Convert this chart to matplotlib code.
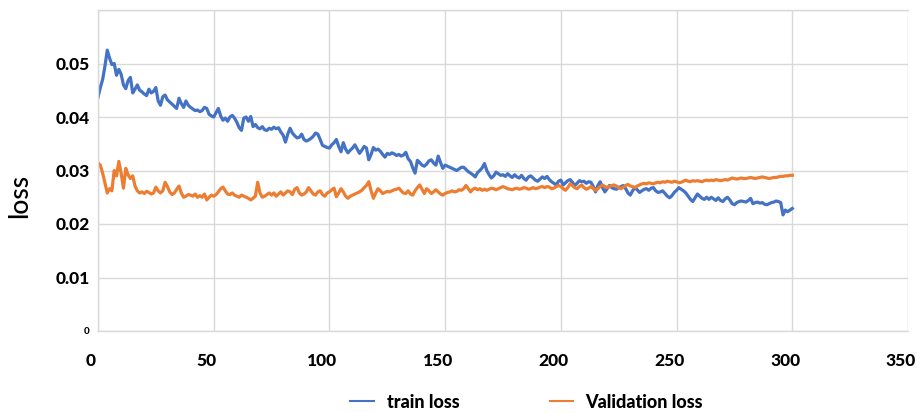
import matplotlib
matplotlib.use("Agg")
import matplotlib.pyplot as plt
import matplotlib.transforms as mtransforms
import numpy as np

epochs = list(range(0, 301))

train_loss = [
    .0437, .0455, .0470, .0495, .0525, .0510, .0498, .0500, .0478, .0489,
    .0480, .0460, .0453, .0468, .0474, .0445, .0452, .0460, .0450, .0447,
    .0443, .0440, .0452, .0445, .0448, .0455, .0430, .0422, .0438, .0441,
    .0432, .0428, .0424, .0420, .0416, .0435, .0425, .0418, .0430, .0422,
    .0418, .0415, .0412, .0413, .0410, .0412, .0418, .0416, .0405, .0402,
    .0400, .0408, .0416, .0402, .0394, .0398, .0392, .0400, .0403, .0398,
    .0390, .0380, .0375, .0398, .0400, .0392, .0401, .0382, .0386, .0380,
    .0378, .0382, .0376, .0375, .0379, .0377, .0381, .0378, .0380, .0372,
    .0366, .0353, .0368, .0379, .0370, .0365, .0361, .0362, .0368, .0358,
    .0355, .0357, .0360, .0364, .0370, .0368, .0358, .0347, .0345, .0343,
    .0342, .0348, .0352, .0358, .0345, .0335, .0352, .0340, .0333, .0338,
    .0342, .0348, .0340, .0332, .0338, .0345, .0342, .0320, .0330, .0343,
    .0338, .0340, .0336, .0330, .0325, .0332, .0330, .0333, .0331, .0328,
    .0330, .0327, .0329, .0334, .0322, .0317, .0305, .0295, .0319, .0315,
    .0310, .0308, .0312, .0318, .0320, .0314, .0310, .0327, .0315, .0304,
    .0310, .0308, .0306, .0304, .0302, .0300, .0303, .0306, .0306, .0302,
    .0298, .0295, .0292, .0288, .0296, .0300, .0305, .0313, .0300, .0292,
    .0286, .0290, .0297, .0294, .0291, .0292, .0289, .0294, .0290, .0287,
    .0292, .0288, .0286, .0291, .0285, .0282, .0288, .0290, .0286, .0282,
    .0280, .0284, .0288, .0285, .0289, .0283, .0279, .0276, .0273, .0280,
    .0282, .0273, .0277, .0281, .0283, .0278, .0272, .0276, .0281, .0279,
    .0280, .0276, .0279, .0278, .0270, .0260, .0272, .0279, .0268, .0260,
    .0266, .0272, .0268, .0266, .0265, .0268, .0270, .0272, .0266, .0258,
    .0254, .0262, .0268, .0264, .0259, .0262, .0265, .0266, .0263, .0267,
    .0268, .0262, .0259, .0260, .0262, .0257, .0252, .0249, .0253, .0259,
    .0263, .0268, .0265, .0262, .0258, .0252, .0246, .0242, .0249, .0256,
    .0252, .0248, .0246, .0250, .0246, .0250, .0247, .0244, .0249, .0244,
    .0242, .0247, .0250, .0245, .0238, .0236, .0240, .0242, .0243, .0242,
    .0241, .0244, .0248, .0238, .0240, .0241, .0239, .0240, .0237, .0236,
    .0238, .0240, .0241, .0243, .0242, .0240, .0217, .0226, .0223, .0226,
    .0229,
]

val_loss = [
    .0314, .0310, .0295, .0277, .0258, .0266, .0262, .0300, .0290, .0317,
    .0295, .0267, .0304, .0292, .0285, .0290, .0271, .0262, .0258, .0260,
    .0257, .0261, .0259, .0256, .0258, .0269, .0262, .0258, .0262, .0278,
    .0270, .0260, .0255, .0258, .0265, .0271, .0258, .0250, .0252, .0255,
    .0254, .0252, .0256, .0250, .0253, .0250, .0256, .0245, .0250, .0254,
    .0252, .0255, .0260, .0266, .0269, .0262, .0256, .0255, .0258, .0254,
    .0252, .0250, .0254, .0252, .0250, .0248, .0245, .0248, .0252, .0278,
    .0258, .0250, .0252, .0255, .0258, .0254, .0258, .0252, .0256, .0260,
    .0254, .0258, .0262, .0260, .0255, .0265, .0268, .0258, .0254, .0256,
    .0260, .0268, .0262, .0256, .0254, .0260, .0262, .0255, .0252, .0258,
    .0260, .0264, .0267, .0251, .0258, .0266, .0260, .0252, .0248, .0252,
    .0254, .0256, .0258, .0260, .0263, .0268, .0272, .0279, .0262, .0248,
    .0258, .0266, .0262, .0257, .0259, .0261, .0260, .0262, .0264, .0265,
    .0267, .0262, .0258, .0257, .0262, .0256, .0254, .0262, .0268, .0273,
    .0265, .0257, .0266, .0262, .0257, .0260, .0264, .0260, .0256, .0254,
    .0257, .0259, .0260, .0262, .0260, .0261, .0264, .0263, .0266, .0272,
    .0266, .0260, .0265, .0267, .0264, .0266, .0263, .0265, .0263, .0265,
    .0267, .0266, .0264, .0266, .0268, .0270, .0268, .0266, .0265, .0264,
    .0266, .0267, .0265, .0266, .0268, .0267, .0265, .0266, .0268, .0266,
    .0267, .0269, .0270, .0268, .0270, .0269, .0266, .0267, .0270, .0272,
    .0270, .0266, .0263, .0268, .0275, .0272, .0268, .0266, .0270, .0273,
    .0268, .0265, .0267, .0270, .0266, .0263, .0266, .0270, .0273, .0270,
    .0268, .0270, .0272, .0273, .0271, .0268, .0266, .0269, .0272, .0274,
    .0271, .0270, .0268, .0271, .0273, .0275, .0276, .0275, .0277, .0276,
    .0275, .0277, .0278, .0277, .0279, .0278, .0280, .0279, .0278, .0280,
    .0279, .0277, .0278, .0280, .0282, .0280, .0279, .0281, .0280, .0281,
    .0280, .0279, .0281, .0282, .0281, .0282, .0281, .0283, .0282, .0281,
    .0282, .0283, .0282, .0284, .0286, .0285, .0284, .0285, .0286, .0285,
    .0285, .0286, .0287, .0286, .0285, .0286, .0287, .0288, .0287, .0286,
    .0285, .0286, .0287, .0287, .0288, .0289, .0289, .0290, .0290, .0291,
    .0291,
]

x_ticks = [0, 50, 100, 150, 200, 250, 300, 350]
y_ticks = [0, 0.01, 0.02, 0.03, 0.04, 0.05]
y_tick_labels = ["0", "0.01", "0.02", "0.03", "0.04", "0.05"]

FONT = ["Lato", "DejaVu Sans"]
plt.rcParams["font.family"] = FONT

fig = plt.figure(figsize=(9.21, 4.13), dpi=100)
ax = fig.add_axes([98 / 921, 1 - 331 / 413, 810 / 921, 321 / 413])

blue = "#4472C4"
orange = "#ED7D31"
ax.plot(epochs, train_loss, color=blue, lw=2.3, label="train loss", solid_joinstyle="round")
ax.plot(epochs, val_loss, color=orange, lw=2.3, label="Validation loss", solid_joinstyle="round")

ax.set_xlim(0, 350)
ax.set_ylim(0, 0.06)
ax.set_xticks(x_ticks)
ax.set_yticks(y_ticks + [0.06])
ax.set_yticklabels(y_tick_labels + [""])
ax.grid(True, color="#d9d9d9", lw=1.0)
ax.set_axisbelow(True)
for s in ax.spines.values():
    s.set_color("#d9d9d9")
    s.set_linewidth(1.0)
ax.spines["right"].set_visible(False)
ax.tick_params(length=0)
ax.tick_params(axis="x", pad=16, labelsize=12.5)
ax.tick_params(axis="y", pad=6, labelsize=12.5)
for lbl in ax.get_xticklabels() + ax.get_yticklabels():
    lbl.set_fontweight("black")
# shift x tick labels slightly left
offset = mtransforms.ScaledTranslation(-7 / 100, 0, fig.dpi_scale_trans)
for lbl in ax.get_xticklabels():
    lbl.set_transform(lbl.get_transform() + offset)
ax.get_yticklabels()[0].set_fontsize(7)

ax.set_ylabel("loss", fontsize=19, fontweight="medium")
ax.yaxis.set_label_coords(-0.081, 0.42)

leg = fig.legend(loc="center", bbox_to_anchor=(0.572, 0.026), ncol=2, frameon=False,
                 prop={"weight": "black", "size": 13}, handlelength=1.3,
                 handletextpad=0.7, columnspacing=5.0)
for h in leg.get_lines():
    h.set_linewidth(1.5)

fig.savefig("out.png", dpi=100)
